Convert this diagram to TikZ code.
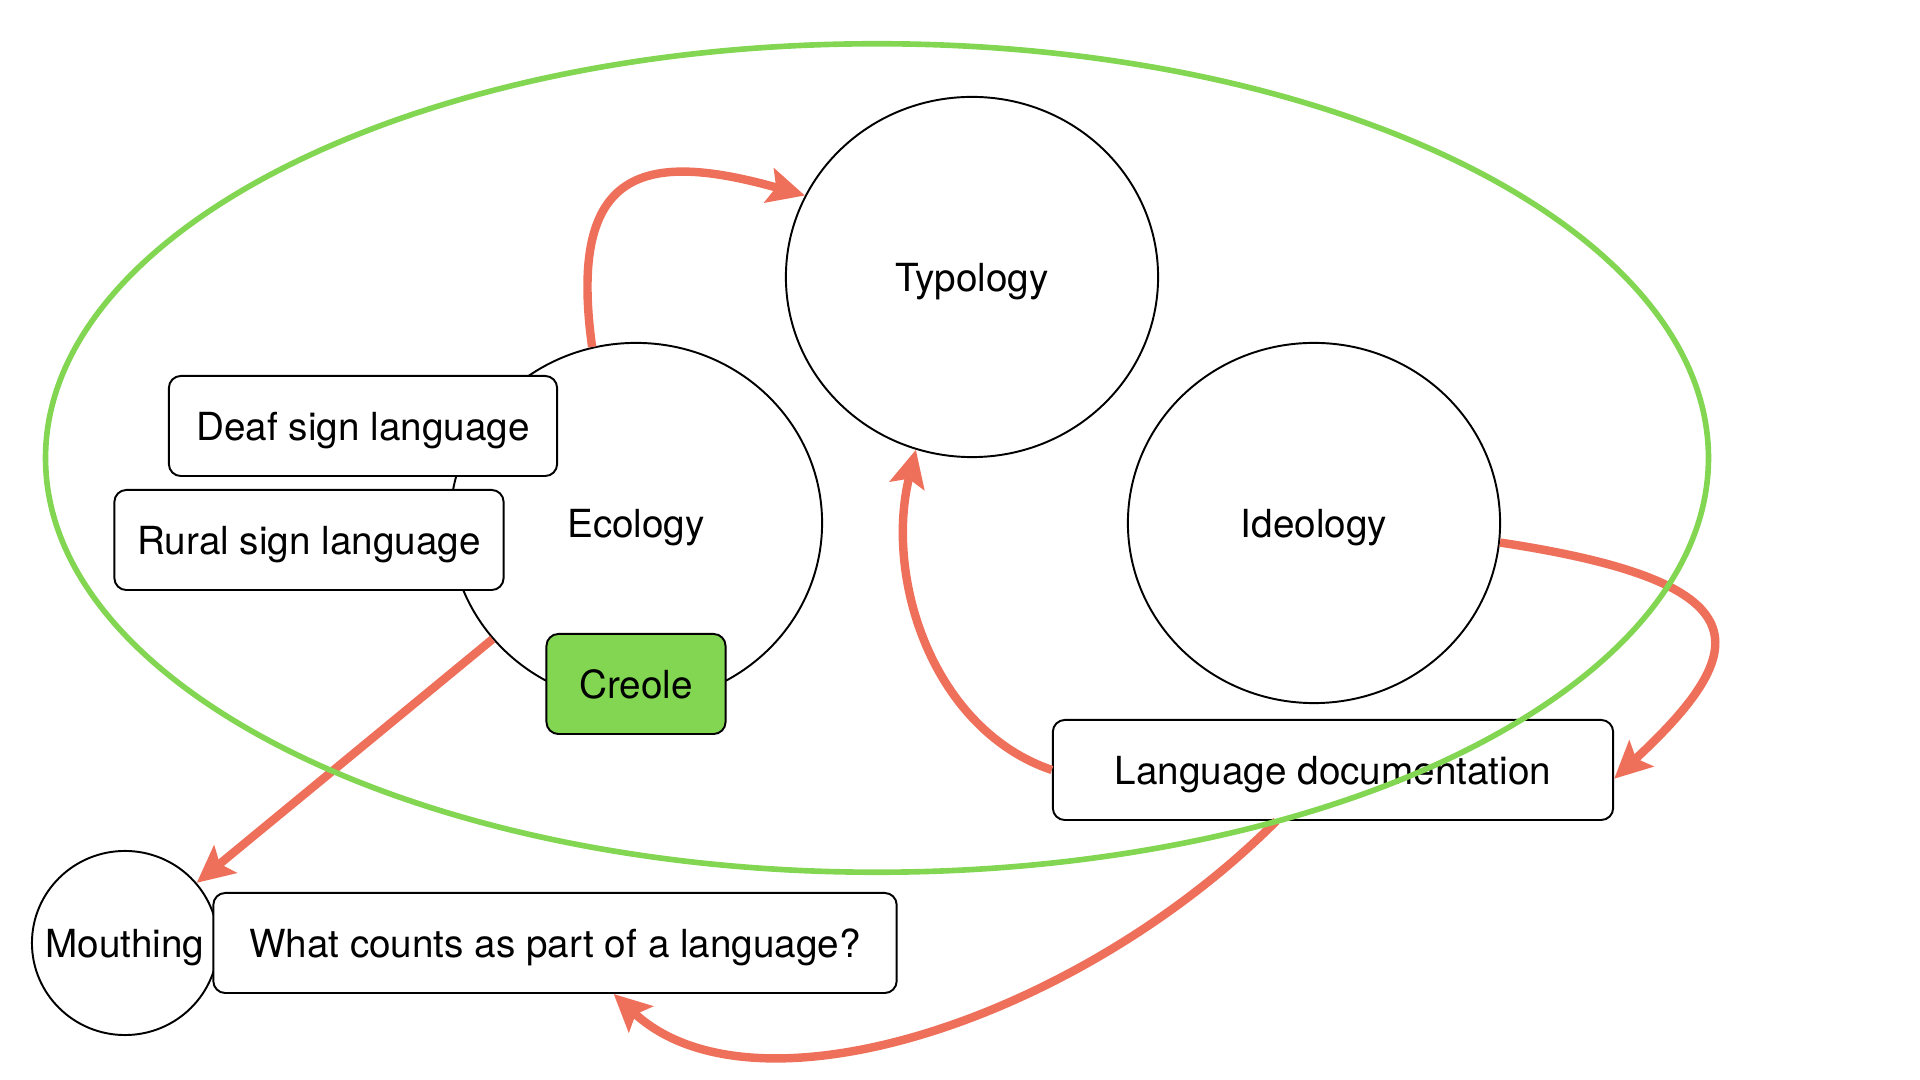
\documentclass[tikz,border=0pt]{standalone}
\usepackage{fontspec}
\setmainfont{TeX Gyre Heros}
\usetikzlibrary{arrows.meta,shapes.geometric}

\definecolor{linkred}{RGB}{238,112,90}
\definecolor{scopegreen}{RGB}{130,214,82}

\begin{document}
\begin{tikzpicture}[%
    x = 0.01cm,
    y = -0.01cm,
    every node/.style={font=\fontsize{11}{13}\selectfont, text height=8pt, text depth=0pt},
    topic/.style={
        draw,
        ellipse,
        inner sep = 0,
        line width = 0.55pt,
        minimum width = 3.72cm,
        minimum height = 3.6cm},
    tagbox/.style={
        draw,
        rectangle,
        rounded corners = 3.4pt,
        fill = white,
        line width = 0.55pt,
        minimum height = 1cm},
    link/.style={%
        draw = linkred,
        line width = 2.4pt,
        -{Stealth[length=10.5pt, width=10pt, inset=2pt]}},
]

\useasboundingbox (0,0) rectangle (1920,1080);

% topics
\node[topic] (typ) at (972,277) {Typology};
\node[topic] (eco) at (636,523) {Ecology};
\node[topic] (ide) at (1314,523) {Ideology};
\node[topic, minimum width=1.86cm, minimum height=1.84cm] (mou) at (125,943) {\makebox[0pt]{Mouthing}};

% labels
\node[tagbox, minimum width=3.88cm] (deaf) at (363,426) {Deaf sign language};
\node[tagbox, minimum width=3.89cm] (rural) at (309,540) {Rural sign language};
\node[tagbox, minimum width=1.79cm, fill=scopegreen] (creole) at (636,684) {Creole};
\node[tagbox, minimum width=5.6cm] (ldoc) at (1333,770) {Language documentation};
\node[tagbox, minimum width=6.83cm] (part) at (555,943) {What counts as part of a language?};

% links
\draw[link] (eco.104) .. controls +(-25,-180) and +(-160,-45) .. (typ.154);
\draw[link] (eco.219) -- (mou.40);
\draw[link] (ldoc.west) .. controls +(-118,-40) and +(-32,130) .. (typ.252);
\draw[link] (ide.354) .. controls +(265,40) and +(140,-130) .. ([yshift=-2.5pt]ldoc.east);
\draw[link] (ldoc.222) .. controls +(-200,200) and +(140,130) .. (part.319);

\draw[scopegreen, line width=1.6pt] (877,458) ellipse [x radius=8.31cm, y radius=4.14cm];
\end{tikzpicture}
\end{document}
